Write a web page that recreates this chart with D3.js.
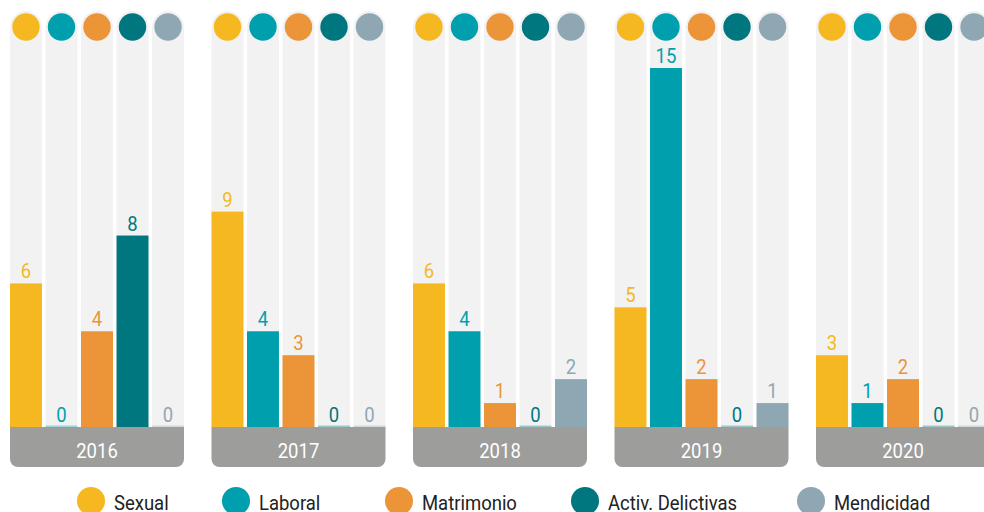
<!DOCTYPE html>
<html>
<head>
<meta charset="utf-8">
<script src="https://cdn.jsdelivr.net/npm/d3@7"></script>
<style>
  body { margin: 0; background: #fff; }
  svg { display: block; font-family: Roboto, "Noto Sans", sans-serif; }
</style>
</head>
<body>
<svg width="984" height="512"></svg>
<script>
const years = ["2016", "2017", "2018", "2019", "2020"];
const categories = ["Sexual", "Laboral", "Matrimonio", "Activ. Delictivas", "Mendicidad"];
const colors = ["#f5b820", "#009fae", "#ec9438", "#00777f", "#8fa7b3"];

const sexual = [6, 9, 6, 5, 3];
const laboral = [0, 4, 4, 15, 1];
const matrimonio = [4, 3, 1, 2, 2];
const delictivas = [8, 0, 0, 0, 0];
const mendicidad = [0, 0, 2, 1, 0];

const series = [sexual, laboral, matrimonio, delictivas, mendicidad];

const svg = d3.select("svg");
const squeeze = 0.88; // condensed look

const color = d3.scaleOrdinal().domain(categories).range(colors);

// one group per year, 201.5px apart, each 174px wide
const groupWidth = 174;
const groupStep = 201.5;
const x0 = d3.scaleBand()
    .domain(years)
    .range([10, 10 + 4 * groupStep + groupWidth])
    .paddingInner((groupStep - groupWidth) / groupStep)
    .paddingOuter(0);

const x1 = d3.scaleBand()
    .domain(categories)
    .range([0, groupWidth])
    .paddingInner(0.1)
    .paddingOuter(0);

const baseline = 427;
const y = d3.scaleLinear().domain([0, 15]).range([baseline, 68]);

const colTop = 11;

const groups = svg.selectAll(".year")
    .data(years)
    .enter()
    .append("g")
    .attr("class", "year")
    .attr("transform", d => `translate(${x0(d)},0)`);

groups.each(function(year, yi) {
    const g = d3.select(this);
    const bw = x1.bandwidth();

    // column backgrounds (rounded top)
    g.selectAll(".bg")
        .data(categories)
        .enter()
        .append("path")
        .attr("class", "bg")
        .attr("fill", "#f2f2f2")
        .attr("d", c => {
            const x = x1(c), r = bw / 2;
            return `M${x},${baseline} V${colTop + r} A${r},${r} 0 0 1 ${x + bw},${colTop + r} V${baseline} Z`;
        });

    // icon circles
    g.selectAll(".icon")
        .data(categories)
        .enter()
        .append("circle")
        .attr("class", "icon")
        .attr("cx", c => x1(c) + bw / 2)
        .attr("cy", colTop + bw / 2)
        .attr("r", 13.7)
        .attr("fill", c => color(c));

    const vals = categories.map((c, ci) => ({ cat: c, value: series[ci][yi] }));

    // bars
    g.selectAll(".bar")
        .data(vals)
        .enter()
        .append("rect")
        .attr("class", "bar")
        .attr("x", d => x1(d.cat))
        .attr("width", bw)
        .attr("y", d => d.value > 0 ? y(d.value) : baseline - 1.5)
        .attr("height", d => d.value > 0 ? baseline - y(d.value) : 1.5)
        .attr("fill", d => color(d.cat))
        .attr("fill-opacity", d => d.value > 0 ? 1 : 0.35);

    // value labels
    g.selectAll(".val")
        .data(vals)
        .enter()
        .append("text")
        .attr("class", "val")
        .attr("transform", d => `translate(${x1(d.cat) + bw / 2},${y(d.value) - 5}) scale(${squeeze},1)`)
        .attr("text-anchor", "middle")
        .attr("font-size", 21)
        .attr("fill", d => color(d.cat))
        .text(d => d.value);

    // year strip
    const h = 40, r = 8, w = groupWidth;
    g.append("path")
        .attr("fill", "#9d9d9b")
        .attr("d", `M0,${baseline} H${w} V${baseline + h - r} A${r},${r} 0 0 1 ${w - r},${baseline + h} H${r} A${r},${r} 0 0 1 0,${baseline + h - r} Z`);

    g.append("text")
        .attr("transform", `translate(${w / 2},${baseline + 31}) scale(${squeeze},1)`)
        .attr("text-anchor", "middle")
        .attr("font-size", 21)
        .attr("fill", "#fff")
        .text(year);
});

// legend
const legendX = [91, 236, 399, 585, 811];
const legend = svg.selectAll(".legend-item")
    .data(categories)
    .enter()
    .append("g")
    .attr("class", "legend-item")
    .attr("transform", (d, i) => `translate(${legendX[i]},501)`);

legend.append("circle")
    .attr("r", 14)
    .attr("fill", d => color(d));

legend.append("text")
    .attr("transform", `translate(23,9) scale(${squeeze},1)`)
    .attr("font-size", 21)
    .attr("fill", "#222")
    .text(d => d);
</script>
</body>
</html>
